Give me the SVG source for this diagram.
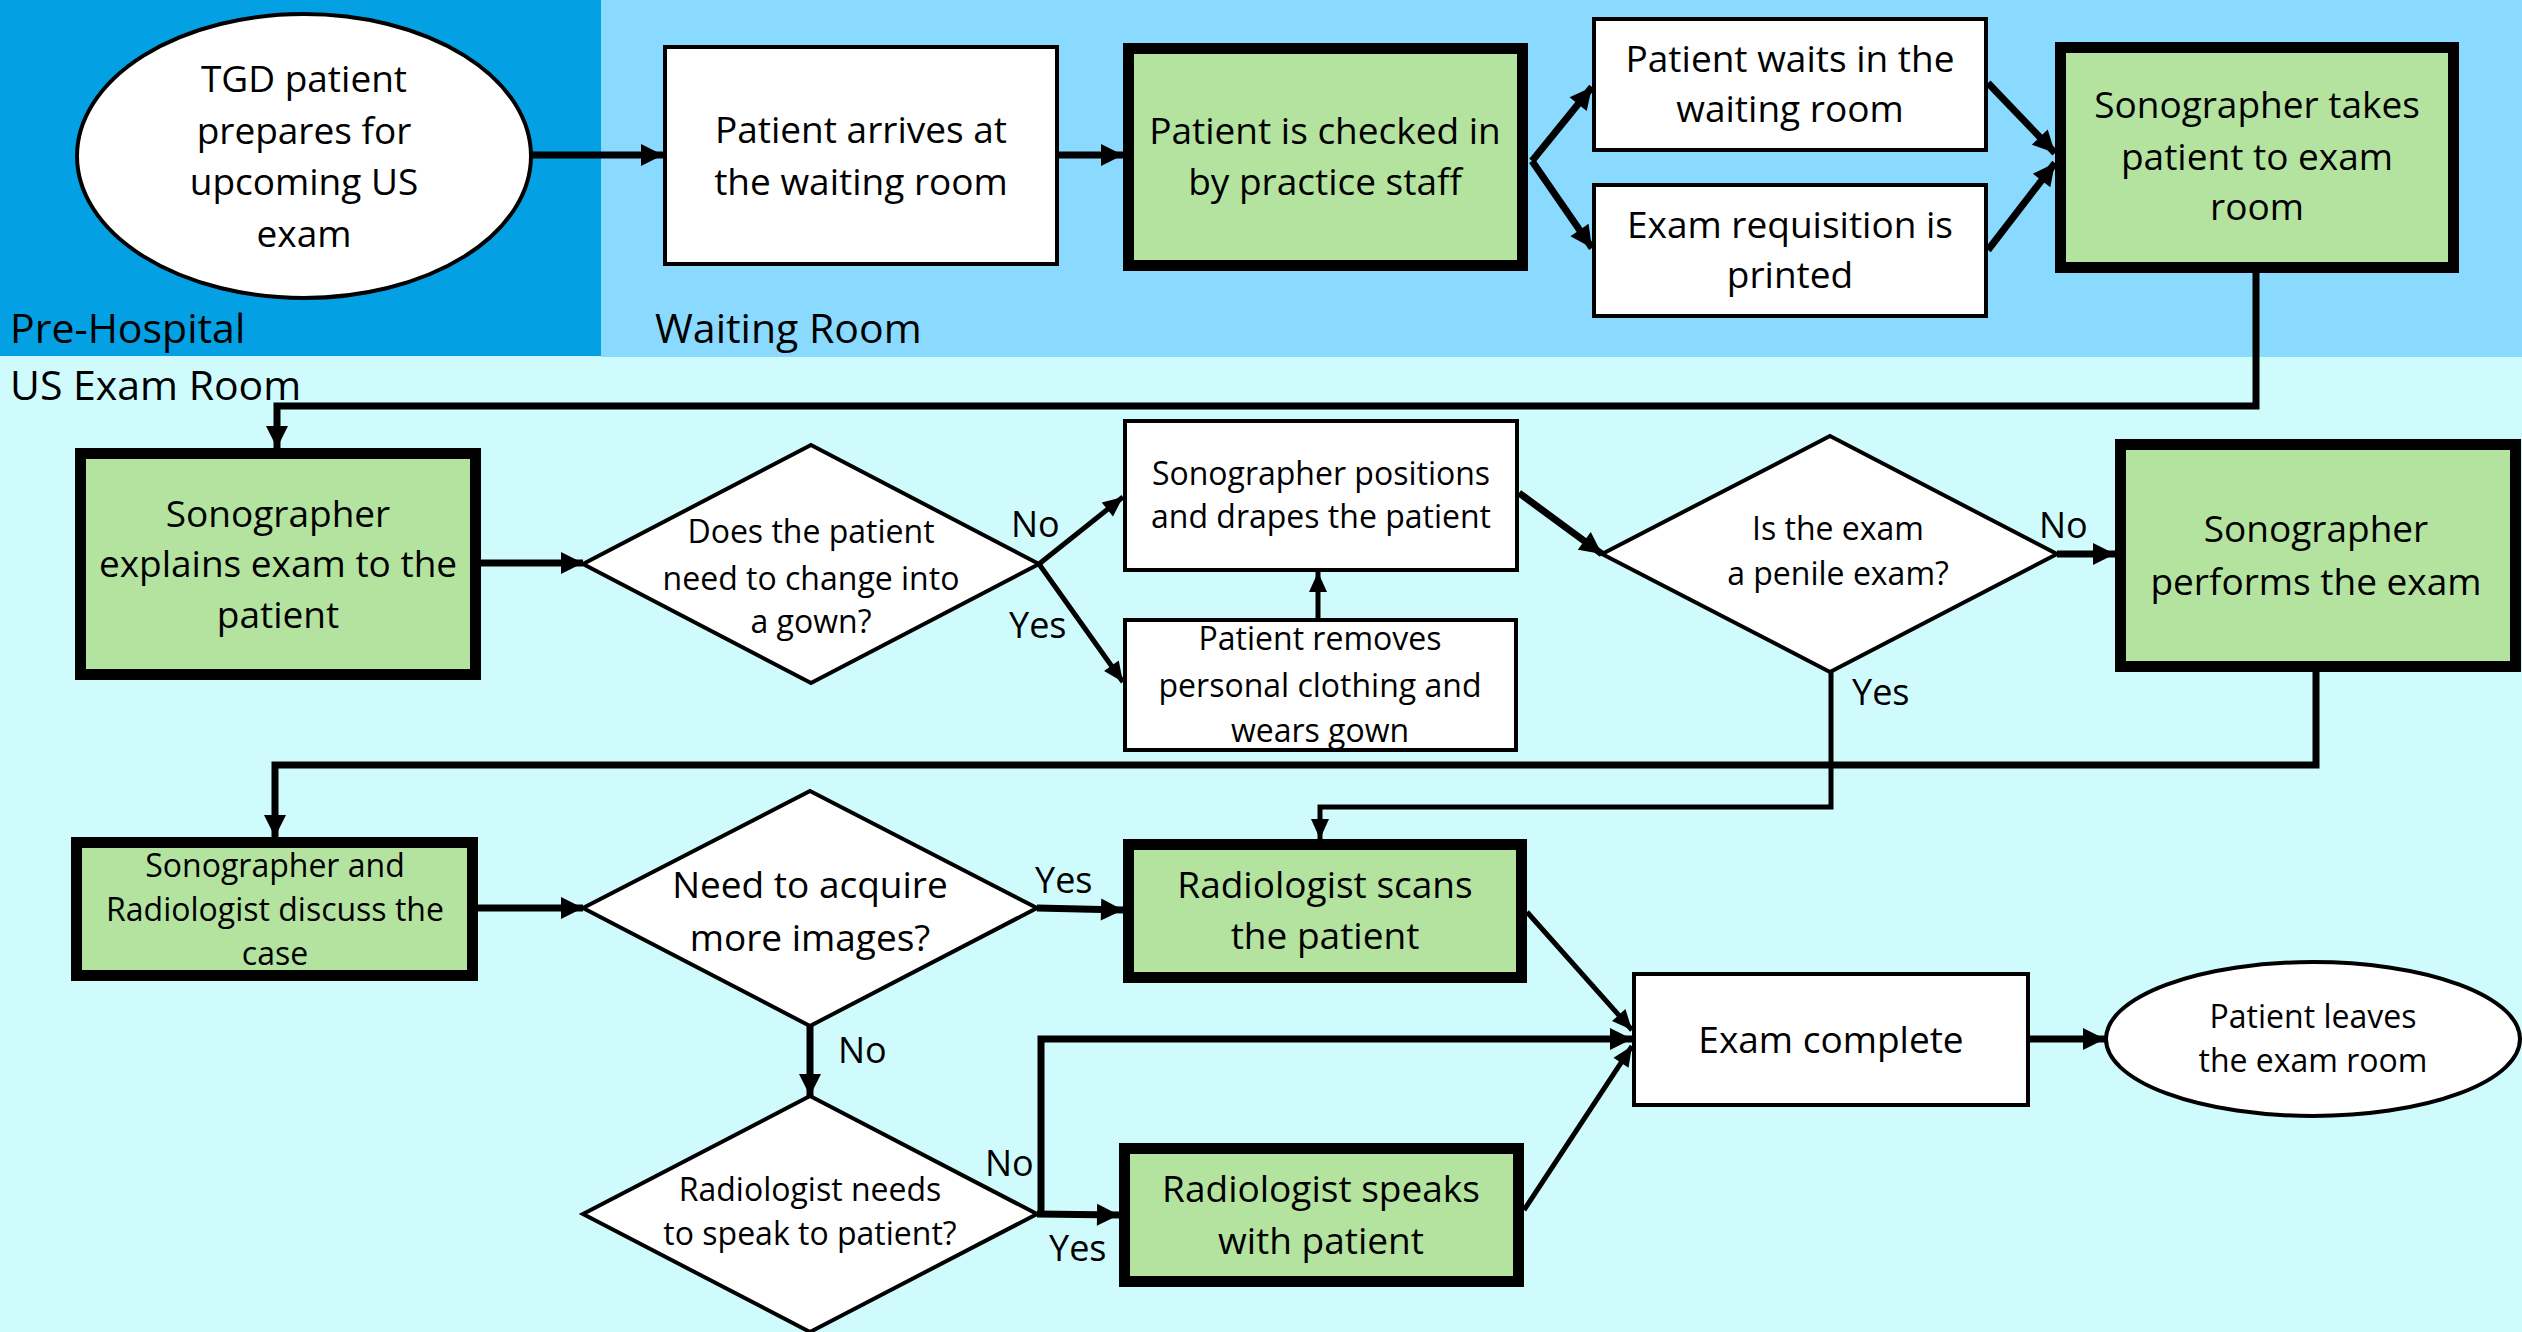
<svg xmlns="http://www.w3.org/2000/svg" width="2522" height="1332" viewBox="0 0 2522 1332">
<style>
text{font-family:"Open Sans","Noto Sans",sans-serif;fill:#000}
.t37{font-size:37px;text-anchor:middle}
.t32{font-size:32px;text-anchor:middle}
.lbl{font-size:36px}
.reg{font-size:41px}
.thin{fill:#fff;stroke:#000;stroke-width:4}
.thick{fill:#B4E3A0;stroke:#000;stroke-width:11}
.c{fill:none;stroke:#000;stroke-width:7;marker-end:url(#ah)}
.c2{fill:none;stroke:#000;stroke-width:5;marker-end:url(#ah2)}
</style>
<defs>
<marker id="ah" markerUnits="userSpaceOnUse" markerWidth="24" markerHeight="24" refX="22" refY="11" orient="auto" overflow="visible"><path d="M0,0 L22,11 L0,22 z" fill="#000"/></marker>
<marker id="ah2" markerUnits="userSpaceOnUse" markerWidth="22" markerHeight="22" refX="20" refY="9" orient="auto" overflow="visible"><path d="M0,0 L20,9 L0,18 z" fill="#000"/></marker>
</defs>
<g id="backgrounds">
<rect x="0" y="0" width="2522" height="1332" fill="#CFFBFD"/>
<rect x="0" y="0" width="601" height="356" fill="#03A0E3"/>
<rect x="601" y="0" width="1921" height="357" fill="#8AD9FE"/>
<text class="reg" x="10" y="343">Pre-Hospital</text>
<text class="reg" x="655" y="343">Waiting Room</text>
<text class="reg" x="10" y="400">US Exam Room</text>
</g>
<g id="connectors">
<path class="c" d="M532,155 L663,155"/>
<path class="c" d="M1059,155 L1123,155"/>
<path class="c" d="M1532,161 L1592,87"/>
<path class="c" d="M1532,161 L1592,248"/>
<path class="c" d="M1988,83 L2055,153"/>
<path class="c" d="M1988,250 L2055,163"/>
<path class="c" d="M2256,273 L2256,406 L277,406 L277,448"/>
<path class="c" d="M481,563 L583,563"/>
<path class="c2" d="M1039,564 L1123,497"/>
<path class="c2" d="M1039,564 L1123,682"/>
<path class="c2" d="M1318,618 L1318,572"/>
<path class="c" d="M1519,493 L1602,554"/>
<path class="c" d="M2057,554 L2115,554"/>
<path class="c2" d="M1831,672 L1831,807 L1320,807 L1320,839"/>
<path class="c" d="M2316,672 L2316,765 L275,765 L275,837"/>
<path class="c" d="M478,908 L583,908"/>
<path class="c" d="M1037,908 L1123,910"/>
<path class="c" d="M810,1026 L810,1096"/>
<path class="c" d="M1037,1214 L1119,1215"/>
<path class="c" d="M1041,1214 L1041,1039 L1632,1039"/>
<path class="c2" d="M1527,912 L1632,1030"/>
<path class="c2" d="M1524,1210 L1632,1046"/>
<path class="c" d="M2030,1039 L2105,1039"/>
<text class="lbl" x="1011" y="537">No</text>
<text class="lbl" x="1009" y="638">Yes</text>
<text class="lbl" x="2039" y="538">No</text>
<text class="lbl" x="1852" y="705">Yes</text>
<text class="lbl" x="1035" y="893">Yes</text>
<text class="lbl" x="838" y="1063">No</text>
<text class="lbl" x="985" y="1176">No</text>
<text class="lbl" x="1049" y="1261">Yes</text>
</g>
<g id="n1"><ellipse class="thin" cx="304" cy="156" rx="227" ry="142"/>
<text class="t37" x="304" y="92">TGD patient</text><text class="t37" x="304" y="144">prepares for</text><text class="t37" x="304" y="195">upcoming US</text><text class="t37" x="304" y="247">exam</text></g>
<g id="n2"><rect class="thin" x="665" y="47" width="392" height="217"/>
<text class="t37" x="861" y="143">Patient arrives at</text><text class="t37" x="861" y="195">the waiting room</text></g>
<g id="n3"><rect class="thick" x="1128.5" y="48.5" width="394" height="217"/>
<text class="t37" x="1325" y="144">Patient is checked in</text><text class="t37" x="1325" y="195">by practice staff</text></g>
<g id="n4"><rect class="thin" x="1594" y="19" width="392" height="131"/>
<text class="t37" x="1790" y="72">Patient waits in the</text><text class="t37" x="1790" y="122">waiting room</text></g>
<g id="n5"><rect class="thin" x="1594" y="185" width="392" height="131"/>
<text class="t37" x="1790" y="238">Exam requisition is</text><text class="t37" x="1790" y="288">printed</text></g>
<g id="n6"><rect class="thick" x="2060.5" y="47.5" width="393" height="220"/>
<text class="t37" x="2257" y="118">Sonographer takes</text><text class="t37" x="2257" y="170">patient to exam</text><text class="t37" x="2257" y="220">room</text></g>
<g id="n7"><rect class="thick" x="80.5" y="453.5" width="395" height="221"/>
<text class="t37" x="278" y="527">Sonographer</text><text class="t37" x="278" y="577">explains exam to the</text><text class="t37" x="278" y="628">patient</text></g>
<g id="d1"><polygon class="thin" points="811,445 1039,564 811,683 583,564"/>
<text class="t32" x="811" y="543">Does the patient</text><text class="t32" x="811" y="590">need to change into</text><text class="t32" x="811" y="633">a gown?</text></g>
<g id="n8"><rect class="thin" x="1125" y="421" width="392" height="149"/>
<text class="t32" x="1321" y="485">Sonographer positions</text><text class="t32" x="1321" y="528">and drapes the patient</text></g>
<g id="n9"><rect class="thin" x="1125" y="620" width="391" height="130"/>
<text class="t32" x="1320" y="650">Patient removes</text><text class="t32" x="1320" y="697">personal clothing and</text><text class="t32" x="1320" y="742">wears gown</text></g>
<g id="d2"><polygon class="thin" points="1830,436 2057,554 1830,672 1602,554"/>
<text class="t32" x="1838" y="540">Is the exam</text><text class="t32" x="1838" y="585">a penile exam?</text></g>
<g id="n10"><rect class="thick" x="2120.5" y="444.5" width="395" height="222"/>
<text class="t37" x="2316" y="542">Sonographer</text><text class="t37" x="2316" y="595">performs the exam</text></g>
<g id="n11"><rect class="thick" x="76.5" y="842.5" width="396" height="133"/>
<text class="t32" x="275" y="877">Sonographer and</text><text class="t32" x="275" y="921">Radiologist discuss the</text><text class="t32" x="275" y="965">case</text></g>
<g id="d3"><polygon class="thin" points="810,791 1037,908 810,1026 583,908"/>
<text class="t37" x="810" y="898">Need to acquire</text><text class="t37" x="810" y="951">more images?</text></g>
<g id="n12"><rect class="thick" x="1128.5" y="844.5" width="393" height="133"/>
<text class="t37" x="1325" y="898">Radiologist scans</text><text class="t37" x="1325" y="949">the patient</text></g>
<g id="d4"><polygon class="thin" points="810,1096 1037,1214 810,1332 583,1214"/>
<text class="t32" x="810" y="1201">Radiologist needs</text><text class="t32" x="810" y="1245">to speak to patient?</text></g>
<g id="n13"><rect class="thick" x="1124.5" y="1148.5" width="394" height="133"/>
<text class="t37" x="1321" y="1202">Radiologist speaks</text><text class="t37" x="1321" y="1254">with patient</text></g>
<g id="n14"><rect class="thin" x="1634" y="974" width="394" height="131"/>
<text class="t37" x="1831" y="1053">Exam complete</text></g>
<g id="n15"><ellipse class="thin" cx="2313" cy="1039" rx="207" ry="77"/>
<text class="t32" x="2313" y="1028">Patient leaves</text><text class="t32" x="2313" y="1072">the exam room</text></g>
</svg>
